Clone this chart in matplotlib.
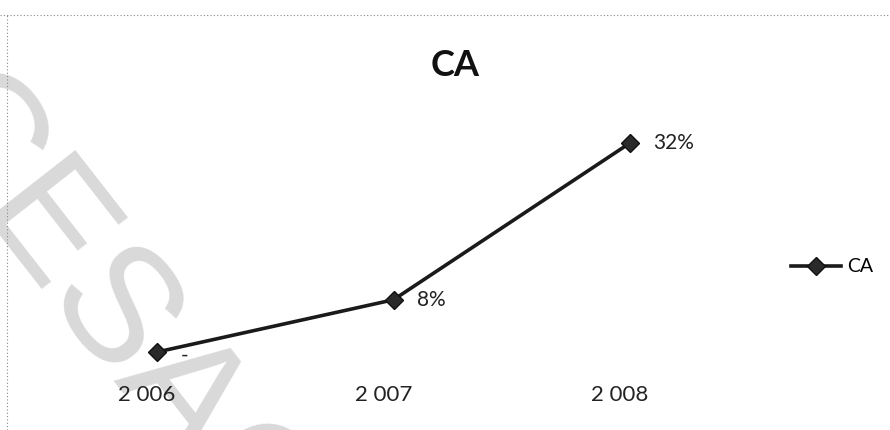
import matplotlib
matplotlib.use("Agg")
import matplotlib.pyplot as plt
from matplotlib.lines import Line2D
from matplotlib.transforms import ScaledTranslation

# Chiffre d'affaires : croissance annuelle
years = ["2 006", "2 007", "2 008"]
growth = [0.00, 0.08, 0.32]
value_labels = ["-", "8%", "32%"]
series_name = "CA"
title = "CA"

plt.rcParams["font.family"] = ["Lato", "DejaVu Sans"]

fig = plt.figure(figsize=(8.9, 4.3), dpi=100)
fig.patch.set_facecolor("white")

# Filigrane en arrière-plan
fig.text(112 / 890, 1 - 322 / 430, "CESAG", fontsize=118, color="#d9d9d9",
         rotation=-52, rotation_mode="anchor", ha="center", va="center",
         family=["Liberation Sans"], zorder=-5)

# Cadre pointillé du graphique
fig.add_artist(Line2D([0.0, 1.0], [1 - 15 / 430, 1 - 15 / 430], transform=fig.transFigure,
                      color="#888888", lw=0.8, ls=(0, (1, 2)), zorder=1))
fig.add_artist(Line2D([7 / 890, 7 / 890], [0.0, 1 - 15 / 430], transform=fig.transFigure,
                      color="#888888", lw=0.8, ls=(0, (1, 2)), zorder=1))

ax = fig.add_axes([39 / 890, 1 - 370 / 430, 709 / 890, 270 / 430])
ax.set_zorder(2)
ax.patch.set_alpha(0)
x = list(range(len(years)))
line, = ax.plot(x, growth, color="#1a1a1a", lw=2.6, marker="D", markersize=9,
                markerfacecolor="#2a2a2a", markeredgecolor="#111111", zorder=3,
                label=series_name)
ax.set_xlim(-0.5, len(years) - 0.5)
ax.set_ylim(-0.0276, 0.386)

for xi, yi, lab in zip(x, growth, value_labels):
    dy = -3 if lab == "-" else 0
    ax.annotate(lab, (xi, yi), xytext=(17, dy), textcoords="offset points",
                ha="left", va="center", fontsize=15, color="#222222")

ax.set_xticks(x)
ax.set_xticklabels(years, fontsize=16, color="#222222")
ax.tick_params(axis="x", length=0, pad=11)
shift = ScaledTranslation(-10 / 100, 0, fig.dpi_scale_trans)
for lbl in ax.get_xticklabels():
    lbl.set_transform(lbl.get_transform() + shift)
ax.set_yticks([])
for s in ax.spines.values():
    s.set_visible(False)

fig.text(455 / 890, 1 - 66 / 430, title, fontsize=26, fontweight="bold",
         ha="center", va="center", color="#111111", zorder=3)

leg = fig.legend(handles=[line], loc="center left",
                 bbox_to_anchor=(773 / 890, 1 - 267 / 430), frameon=False,
                 fontsize=14, handlelength=2.6, handletextpad=0.3)

fig.savefig("out.png", dpi=100, facecolor="white")
